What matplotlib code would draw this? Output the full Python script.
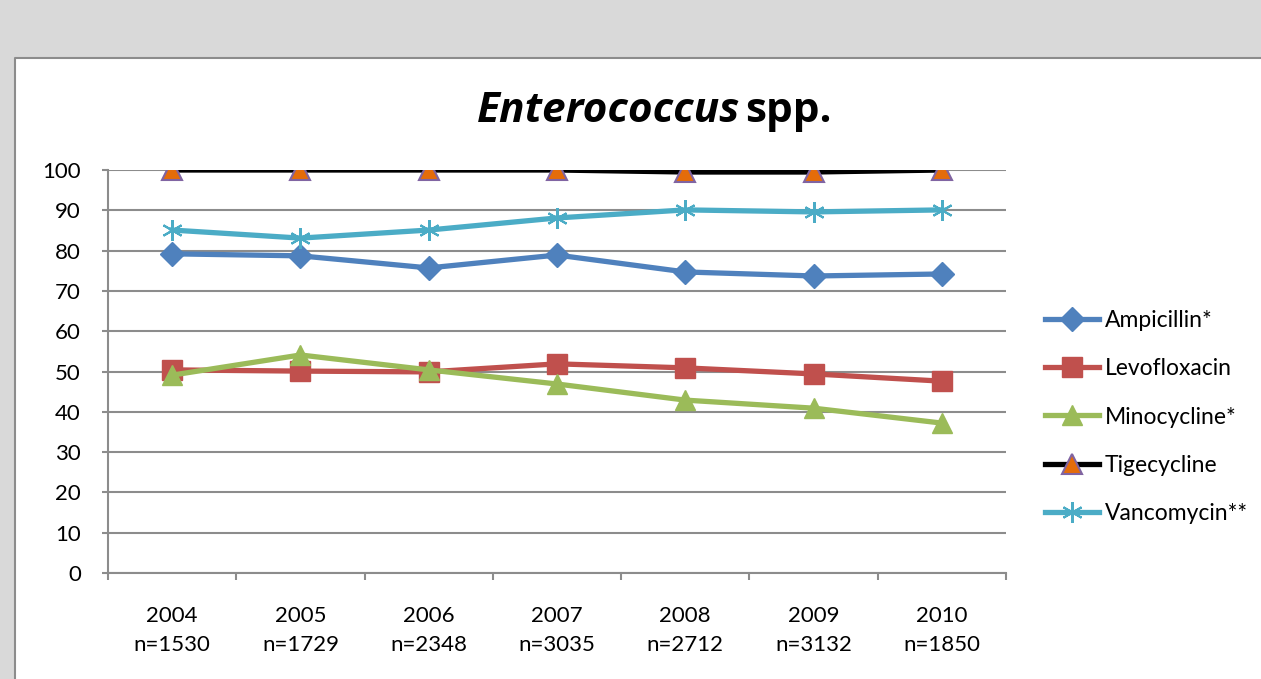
import matplotlib
matplotlib.use("Agg")
import matplotlib.pyplot as plt
from matplotlib.patches import Rectangle
from matplotlib.lines import Line2D

years = ["2004", "2005", "2006", "2007", "2008", "2009", "2010"]
counts = ["n=1530", "n=1729", "n=2348", "n=3035", "n=2712", "n=3132", "n=1850"]
ampicillin = [79.2, 78.7, 75.7, 78.9, 74.7, 73.7, 74.2]
levofloxacin = [50.4, 50.1, 49.9, 51.9, 50.9, 49.4, 47.6]
minocycline = [49.1, 54.1, 50.4, 46.9, 42.9, 40.9, 37.2]
tigecycline = [100, 100, 100, 100, 99.5, 99.5, 100]
vancomycin = [85.1, 83.1, 85.1, 88.1, 90.1, 89.6, 90.1]
series_names = ["Ampicillin*", "Levofloxacin", "Minocycline*", "Tigecycline", "Vancomycin**"]

plt.rcParams['font.family'] = ['Lato', 'DejaVu Sans']
W, H = 1261, 679
fig = plt.figure(figsize=(W / 100, H / 100), dpi=100)
fig.patch.set_facecolor('#D9D9D9')
box_l, box_t = 15 / W, 1 - 58 / H
fig.patches.append(Rectangle((box_l, 0), 1 - box_l, box_t, transform=fig.transFigure,
                             facecolor='white', edgecolor='none', zorder=-10))
fig.add_artist(Line2D([box_l, box_l, 1.0], [0, box_t, box_t], transform=fig.transFigure,
                      color='#8C8C8C', lw=1.5, zorder=-9))

ax = fig.add_axes([108 / W, 1 - 573 / H, (1006 - 108) / W, (573 - 170) / H])
ax.set_facecolor('none')
x = list(range(len(years)))
lw = 3.8
ax.plot(x, ampicillin, color='#4F81BD', lw=lw, marker='D', ms=12, label=series_names[0], zorder=3)
ax.plot(x, levofloxacin, color='#C0504D', lw=lw, marker='s', ms=15, label=series_names[1], zorder=3)
ax.plot(x, minocycline, color='#9BBB59', lw=lw, marker='^', ms=15, label=series_names[2], zorder=3)
ax.plot(x, tigecycline, color='black', lw=lw, marker='^', ms=14, mfc='#E46C0A', mec='#8064A2',
        mew=1.5, label=series_names[3], zorder=3)
ax.plot(x, vancomycin, color='#4BACC6', lw=lw, marker=(6, 2, 0), ms=15, mec='#4BACC6', mew=1.5,
        label=series_names[4], zorder=3)

fs = 16
ax.set_ylim(0, 100)
ax.set_xlim(-0.5, len(years) - 0.5)
ax.set_yticks(range(0, 101, 10))
ax.tick_params(axis='y', length=4, width=1.5, color='#8C8C8C', pad=15.5, labelsize=fs)
ax.yaxis.grid(True, color='#8C8C8C', lw=1.5)
ax.set_axisbelow(True)
ax.set_xticks(x)
ax.set_xticklabels([f"{y}\n{n}" for y, n in zip(years, counts)], linespacing=1.55)
ax.set_xticks([i - 0.5 for i in range(len(years) + 1)], minor=True)
ax.tick_params(axis='x', which='major', length=0, pad=24, labelsize=fs)
ax.tick_params(axis='x', which='minor', length=5, width=1.5, color='#8C8C8C')
for s in ['top', 'right']:
    ax.spines[s].set_visible(False)
for s in ['left', 'bottom']:
    ax.spines[s].set_color('#8C8C8C')
    ax.spines[s].set_linewidth(1.5)

tfont = ['Open Sans', 'DejaVu Sans']
fig.text(740 / W, 1 - 111 / H, "Enterococcus", ha='right', va='center', fontsize=30.5,
         fontweight='bold', fontstyle='italic', family=tfont)
fig.text(745 / W, 1 - 111 / H, "spp.", ha='left', va='center', fontsize=30.5, fontweight='bold',
         family=tfont)

ax.legend(loc='center left', bbox_to_anchor=(1045 / W, 1 - 417 / H), bbox_transform=fig.transFigure,
          frameon=False, fontsize=16.5, handlelength=2.35, handletextpad=0.27, labelspacing=1.19,
          borderaxespad=0, borderpad=0)

fig.savefig("out.png", dpi=100, facecolor=fig.get_facecolor())
